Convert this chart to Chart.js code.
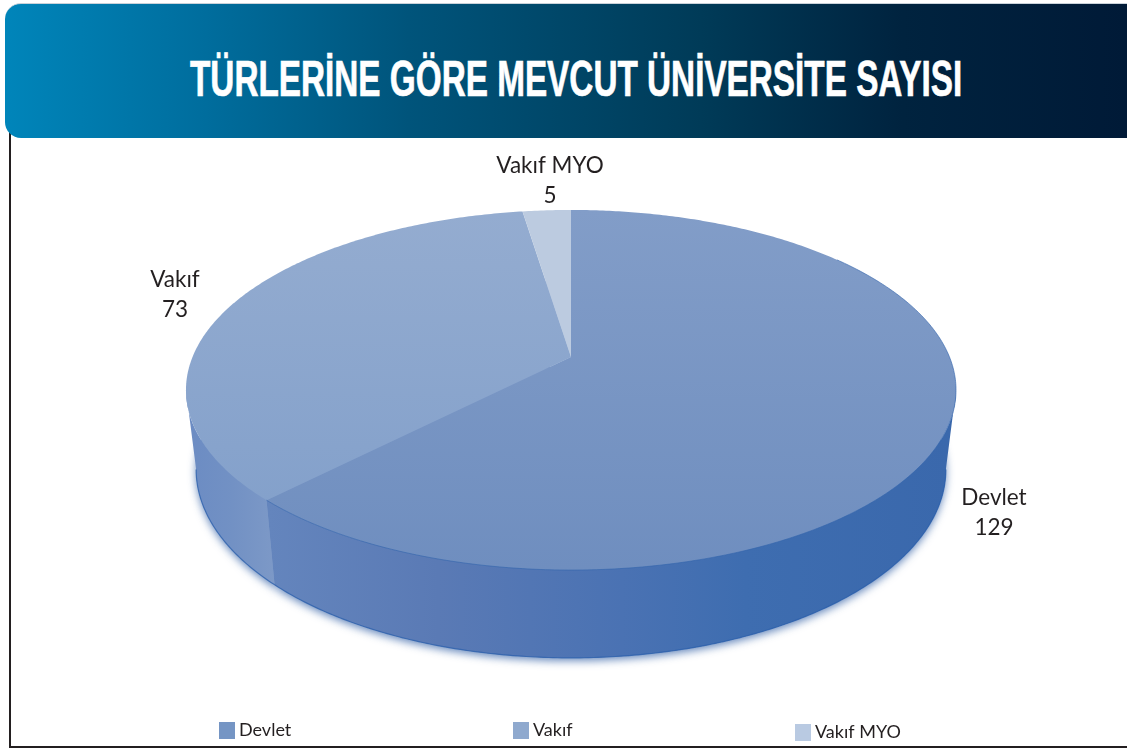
<!DOCTYPE html>
<html lang="tr">
<head>
<meta charset="utf-8">
<title>Türlerine Göre Mevcut Üniversite Sayısı</title>
<script src="https://cdn.jsdelivr.net/npm/chart.js@4/dist/chart.umd.min.js"></script>
<style>
    html, body { margin: 0; padding: 0; background: #fff; }
    #page { position: relative; width: 1127px; height: 748px; overflow: hidden; }
    #frame { position: absolute; left: 9px; top: 130px; right: -5px; bottom: 0; border-left: 2px solid #231f20; border-bottom: 2px solid #231f20; }
    #header {
        position: absolute; left: 5px; top: 3px; right: 0; height: 135px;
        border-radius: 16px 0 0 16px; border-top: 1px solid #c9d2da; box-sizing: border-box;
        background: linear-gradient(90deg, #0085ba 0%, #006d9d 18%, #00547b 36%, #003b58 62%, #00233f 80%, #001a37 100%);
    }
    #title {
        position: absolute; left: 185px; top: 45px; margin: 0; white-space: nowrap;
        font: bold 50px "Liberation Sans Narrow", "Liberation Sans", sans-serif; line-height: 60px; color: #fff;
        -webkit-text-stroke: 0.7px #fff;
        transform-origin: 0 50%; transform: scaleX(1);
    }
    canvas { position: absolute; left: 0; top: 0; }
</style>
</head>
<body>
<div id="page">
    <div id="frame"></div>
    <div id="header"><h1 id="title">TÜRLERİNE GÖRE MEVCUT ÜNİVERSİTE SAYISI</h1></div>
    <canvas id="pie" width="1127" height="748"></canvas>
</div>
<script>
const categories = ["Devlet", "Vakıf", "Vakıf MYO"];
const universityCounts = [129, 73, 5];
const legendColors = ["#7595c4", "#8fa9ce", "#b9cae2"];

// squeezed + foreshortened disc, top face and bottom face of the 3d pie
const topFace = { cx: 571, cy: 357, rx: 378.5, ry: 174, k: 0.1833 };
const bottomFace = { cx: 571, cy: 435, rx: 368.5, ry: 182, k: 0.1833 };

function project(face, theta){
    const u = Math.sin(theta);
    const v = -Math.cos(theta);
    const w = 1 - face.k * v;
    return [face.cx + face.rx * u / w, face.cy + face.ry * v / w];
}

function rimPoints(face, from, to){
    const pts = [];
    const steps = Math.max(2, Math.ceil((to - from) / 0.01));
    for(let i = 0; i <= steps; i++){
        pts.push(project(face, from + (to - from) * i / steps));
    }
    return pts;
}

function tracePath(ctx, pts){
    ctx.beginPath();
    pts.forEach((p, i) => i === 0 ? ctx.moveTo(p[0], p[1]) : ctx.lineTo(p[0], p[1]));
    ctx.closePath();
}

function gradient(ctx, x0, y0, x1, y1, stops){
    const g = ctx.createLinearGradient(x0, y0, x1, y1);
    stops.forEach(s => g.addColorStop(s[0], s[1]));
    return g;
}

function wallFill(ctx, i){
    if(i === 0){
        return gradient(ctx, 268, 0, 950, 0, [[0, "#6485bd"], [0.25, "#5a7ab5"], [0.52, "#4a72b3"], [0.7, "#3e6db0"], [1, "#3a68ac"]]);
    }
    if(i === 1){
        return gradient(ctx, 190, 0, 275, 0, [[0, "#6c8cc3"], [0.5, "#7291c4"], [1, "#7d99c7"]]);
    }
    return "#b9cae2";
}

function topFill(ctx, i){
    if(i === 0){
        return gradient(ctx, 0, 210, 0, 570, [[0, "#829dc8"], [1, "#6f8ebf"]]);
    }
    if(i === 1){
        return gradient(ctx, 0, 212, 0, 500, [[0, "#94acd0"], [1, "#84a1cb"]]);
    }
    return "#bccbe0";
}

const pie3d = {
    id: "pie3d",
    beforeDatasetDraw(chart, args){
        const ctx = chart.ctx;
        const arcs = args.meta.data;
        const slices = arcs.map(a => ({ from: a.startAngle + Math.PI / 2, to: a.endAngle + Math.PI / 2 }));

        // the walls are only seen between the two silhouette angles
        const frontFrom = Math.acos(-topFace.k);
        const frontTo = 2 * Math.PI - frontFrom;

        // bottom face with the soft glow round it
        ctx.save();
        ctx.shadowColor = "rgba(84,122,180,0.9)";
        ctx.shadowBlur = 8;
        ctx.shadowOffsetY = 3;
        slices.forEach((s, i) => {
            tracePath(ctx, [[bottomFace.cx, bottomFace.cy]].concat(rimPoints(bottomFace, s.from, s.to)));
            ctx.fillStyle = wallFill(ctx, i);
            ctx.fill();
        });
        ctx.restore();

        // side walls
        slices.forEach((s, i) => {
            const from = Math.max(s.from, frontFrom);
            const to = Math.min(s.to, frontTo);
            if(to <= from) return;
            tracePath(ctx, rimPoints(topFace, from, to).concat(rimPoints(bottomFace, from, to).reverse()));
            ctx.fillStyle = wallFill(ctx, i);
            ctx.fill();
        });

        // darker lower edge of the wall
        ctx.beginPath();
        rimPoints(bottomFace, frontFrom, frontTo).forEach((p, i) => i === 0 ? ctx.moveTo(p[0], p[1]) : ctx.lineTo(p[0], p[1]));
        ctx.strokeStyle = "rgba(44,96,172,0.75)";
        ctx.lineWidth = 1.2;
        ctx.stroke();

        // top face
        slices.forEach((s, i) => {
            tracePath(ctx, [[topFace.cx, topFace.cy]].concat(rimPoints(topFace, s.from, s.to)));
            ctx.fillStyle = topFill(ctx, i);
            ctx.fill();
        });

        ctx.beginPath();
        rimPoints(topFace, slices[0].from + 0.9, slices[0].to).forEach((p, i) => i === 0 ? ctx.moveTo(p[0], p[1]) : ctx.lineTo(p[0], p[1]));
        ctx.strokeStyle = "rgba(50,100,172,0.6)";
        ctx.lineWidth = 1;
        ctx.stroke();

        return false;
    },
    afterDraw(chart){
        const ctx = chart.ctx;
        const values = chart.data.datasets[0].data;
        const labelSpots = [[994, 505], [175, 287], [550, 173]];
        const legendSpots = [[219, 722], [513, 722], [795, 724]];

        ctx.save();
        ctx.fillStyle = "#231f20";
        ctx.textAlign = "center";
        ctx.textBaseline = "alphabetic";
        ctx.font = '22.5px Lato, "Open Sans", sans-serif';
        chart.data.labels.forEach((label, i) => {
            ctx.fillText(label, labelSpots[i][0], labelSpots[i][1]);
            ctx.fillText(String(values[i]), labelSpots[i][0], labelSpots[i][1] + 30);
        });

        ctx.textAlign = "left";
        ctx.font = '18px Lato, "Open Sans", sans-serif';
        chart.data.labels.forEach((label, i) => {
            ctx.fillStyle = legendColors[i];
            ctx.fillRect(legendSpots[i][0], legendSpots[i][1], 16, 17);
            ctx.fillStyle = "#231f20";
            ctx.fillText(label, legendSpots[i][0] + 20, legendSpots[i][1] + 14);
        });
        ctx.restore();
    }
};

new Chart(document.getElementById("pie"), {
    type: "pie",
    data: {
        labels: categories,
        datasets: [{
            data: universityCounts,
            backgroundColor: legendColors,
            borderWidth: 0
        }]
    },
    options: {
        responsive: false,
        animation: false,
        rotation: 0,
        plugins: {
            legend: { display: false },
            tooltip: { enabled: false }
        }
    },
    plugins: [pie3d]
});

// fit the heading to the width it has in the reference
const title = document.getElementById("title");
title.style.transform = `scaleX(${772 / title.offsetWidth})`;
</script>
</body>
</html>
